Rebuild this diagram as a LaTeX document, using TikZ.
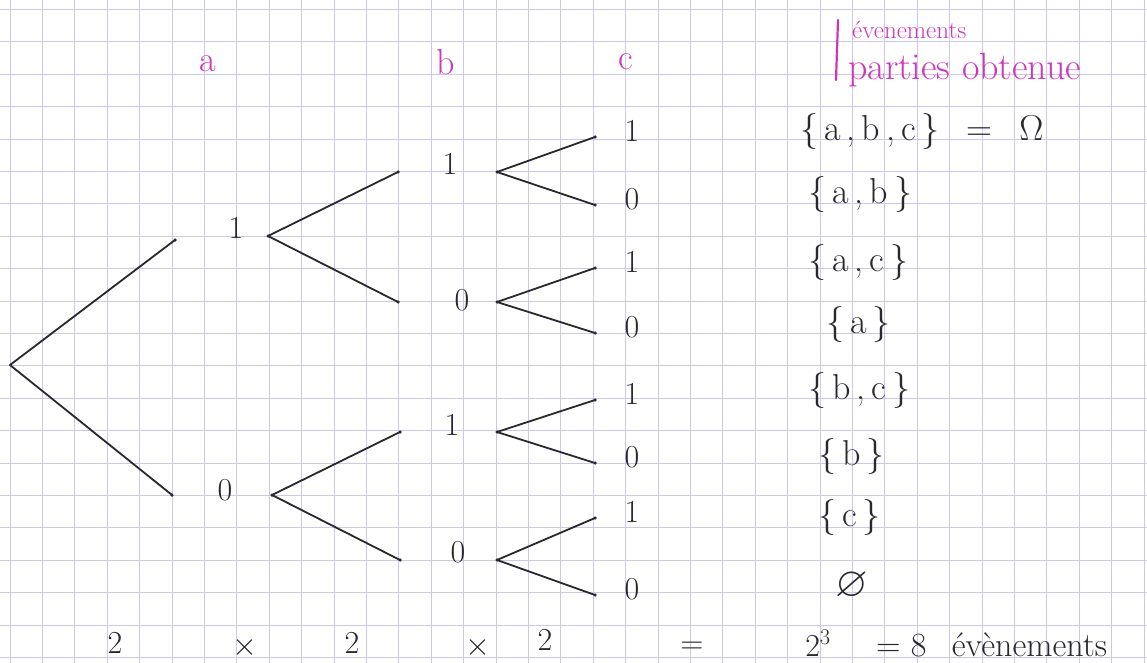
\RequirePackage{fix-cm}
\documentclass[tikz,border=0pt]{standalone}
\usepackage{amssymb}
\begin{document}
\begin{tikzpicture}[x=1pt,y=-1pt,
  pen/.style={draw=ink,line width=1.8pt,line cap=round},
  lbl/.style={text=ink,font=\fontsize{32}{36}\selectfont,inner sep=0pt},
  hdr/.style={text=mag,font=\fontsize{36}{40}\selectfont,inner sep=0pt},
  ev/.style={text=ink,font=\fontsize{36}{40}\selectfont,inner sep=0pt,anchor=west},
  dot/.style={fill=ink,circle,inner sep=0pt,minimum size=3.5pt}]
\definecolor{ink}{RGB}{40,40,45}
\definecolor{mag}{RGB}{205,55,185}
\definecolor{gridc}{RGB}{205,200,232}
\useasboundingbox (0,0) rectangle (1147,663);
\fill[white] (0,0) rectangle (1147,663);
\foreach \k in {0,...,35} \draw[gridc,line width=1pt] ({10+32.4*\k},0) -- ({10+32.4*\k},663);
\foreach \k in {0,...,20} \draw[gridc,line width=1pt] (0,{9.5+32.4*\k}) -- (1147,{9.5+32.4*\k});
% headers
\node[hdr] (ha) at (208,64) {a};
\node[hdr] (hb) at (446,62) {b};
\node[hdr] (hc) at (626,62) {c};
\draw[mag,line width=2.2pt,line cap=round] (838,20) -- (836,80);
\node[text=mag,font=\fontsize{25}{27}\selectfont,inner sep=0pt,anchor=west] (hev) at (852,30) {évenements};
\node[text=mag,font=\fontsize{38}{40}\selectfont,inner sep=0pt,anchor=west] (hpo) at (848,70) {parties obtenue};
% tree coordinates
\coordinate (r) at (10,365);
\coordinate (a1i) at (175,240); \node[lbl] (a1) at (236,228) {1}; \coordinate (a1o) at (268,236);
\coordinate (a0i) at (172,495); \node[lbl] (a0) at (225,490) {0}; \coordinate (a0o) at (272,495);
\coordinate (b11i) at (398,172); \node[lbl] (b11) at (450,164) {1}; \coordinate (b11o) at (497,172);
\coordinate (b10i) at (398,302); \node[lbl] (b10) at (462,300) {0}; \coordinate (b10o) at (497,302);
\coordinate (b01i) at (400,432); \node[lbl] (b01) at (452,425) {1}; \coordinate (b01o) at (497,432);
\coordinate (b00i) at (400,560); \node[lbl] (b00) at (458,552) {0}; \coordinate (b00o) at (497,560);
\foreach \n/\y/\v in {c1/137/1,c2/205/0,c3/268/1,c4/333/0,c5/400/1,c6/463/0,c7/518/1,c8/595/0}{
  \coordinate (\n i) at (595,\y);
  \node[lbl] (\n) at (632,\y-6) {\v};
}
% connectors
\draw[pen] (r) -- (a1i); \draw[pen] (r) -- (a0i);
\draw[pen] (a1o) -- (b11i); \draw[pen] (a1o) -- (b10i);
\draw[pen] (a0o) -- (b01i); \draw[pen] (a0o) -- (b00i);
\draw[pen] (b11o) -- (c1i); \draw[pen] (b11o) -- (c2i);
\draw[pen] (b10o) -- (c3i); \draw[pen] (b10o) -- (c4i);
\draw[pen] (b01o) -- (c5i); \draw[pen] (b01o) -- (c6i);
\draw[pen] (b00o) -- (c7i); \draw[pen] (b00o) -- (c8i);
\foreach \p in {a1i,a0i,a1o,a0o,b11i,b10i,b01i,b00i,b11o,b10o,b01o,b00o,c1i,c2i,c3i,c4i,c5i,c6i,c7i,c8i}
  \node[dot] at (\p) {};
% events
\node[ev] (e1) at (800,132) {\{\,a\,,\,b\,,\,c\,\}\;\, = \;\,$\Omega$};
\node[ev] (e2) at (808,194) {\{\,a\,,\,b\,\}};
\node[ev] (e3) at (808,262) {\{\,a\,,\,c\,\}};
\node[ev] (e4) at (826,324) {\{\,a\,\}};
\node[ev] (e5) at (808,390) {\{\,b\,,\,c\,\}};
\node[ev] (e6) at (818,456) {\{\,b\,\}};
\node[ev] (e7) at (818,517) {\{\,c\,\}};
\node[text=ink,font=\fontsize{42}{44}\selectfont,inner sep=0pt] (e8) at (852,586) {$\varnothing$};
% bottom
\node[lbl] (m1) at (115,643) {2};
\node[lbl] (x1) at (245,647) {$\times$};
\node[lbl] (m2) at (352,643) {2};
\node[lbl] (x2) at (478,647) {$\times$};
\node[lbl] (m3) at (545,640) {2};
\node[lbl] (eq1) at (692,648) {=};
\node[lbl] (pw) at (818,643) {2$^{3}$};
\node[lbl,anchor=west,font=\fontsize{34}{36}\selectfont] (res) at (876,645) {= 8\;\, évènements};
\end{tikzpicture}
\end{document}
